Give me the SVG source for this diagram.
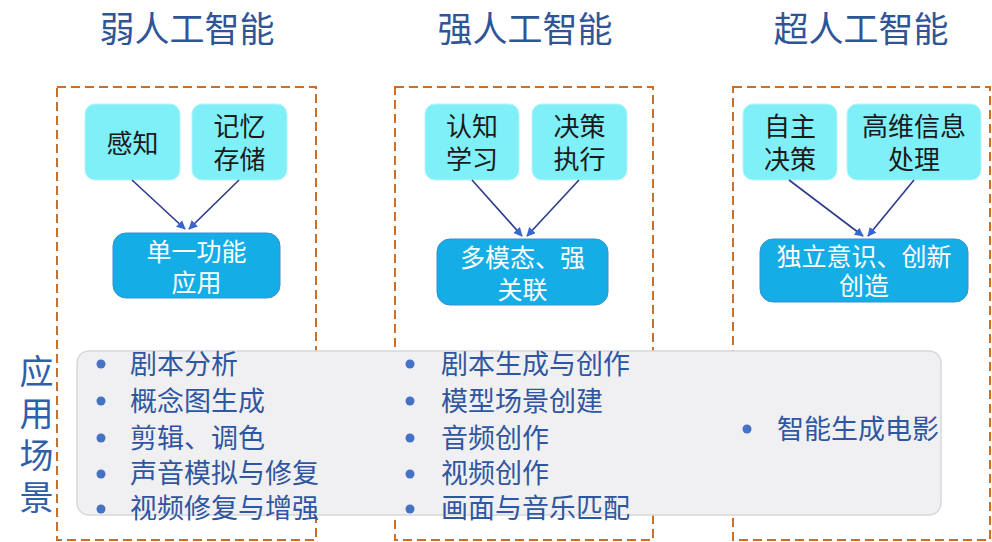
<svg xmlns="http://www.w3.org/2000/svg" width="992" height="542" viewBox="0 0 992 542">
<defs>
<style>
text{font-family:"Liberation Sans","Noto Sans CJK SC",sans-serif;dominant-baseline:central;text-anchor:middle}
.title{font-size:35px;fill:#2f5597}
.frame{fill:none;stroke:#c8702a;stroke-width:2;stroke-dasharray:9 5}
.light{fill:#7ff0f8;stroke:#b8f4f8;stroke-width:1}
.dark{fill:#14ade6;stroke:#3b8fd0;stroke-width:1}
.lt{font-size:26px;fill:#1a1a1a}
.dt{font-size:25px;fill:#ffffff}
.band{fill:#f0f0f2;stroke:#d8d8dc;stroke-width:1.5}
.item{font-size:27px;fill:#2f56a0;text-anchor:start}
.side{font-size:34px;fill:#2f5fa8;writing-mode:vertical-rl;text-anchor:start;letter-spacing:8px}
.dot{fill:#4472c4}
.conn line{stroke:#2b3a8c;stroke-width:1.6;marker-end:url(#ah)}
</style>
<marker id="ah" viewBox="0 0 10 10" refX="9" refY="5" markerWidth="9" markerHeight="9" orient="auto" markerUnits="userSpaceOnUse">
<path d="M0,0 L10,5 L0,10 z" fill="#3a66d0"/>
</marker>
</defs>
<rect width="992" height="542" fill="#ffffff"/>

<g id="col-weak">
<text class="title" x="187" y="29">弱人工智能</text>
<rect class="frame" x="57" y="87" width="259" height="453"/>
</g>
<g id="col-strong">
<text class="title" x="525" y="29">强人工智能</text>
<rect class="frame" x="395" y="87" width="258" height="453"/>
</g>
<g id="col-super">
<text class="title" x="861" y="29">超人工智能</text>
<rect class="frame" x="733" y="87" width="257" height="453"/>
</g>

<g id="n-ganzhi"><rect class="light" x="85" y="104" width="95" height="76" rx="10"/><text class="lt" x="132.5" y="144">感知</text></g>
<g id="n-jiyi"><rect class="light" x="192" y="104" width="95" height="76" rx="10"/><text class="lt"><tspan x="239.5" y="127">记忆</tspan><tspan x="239.5" y="160">存储</tspan></text></g>
<g id="n-danyi"><rect class="dark" x="113" y="233" width="167" height="65" rx="13"/><text class="dt"><tspan x="196.5" y="252">单一功能</tspan><tspan x="196.5" y="283">应用</tspan></text></g>

<g id="n-renzhi"><rect class="light" x="425" y="104" width="94" height="76" rx="10"/><text class="lt"><tspan x="472" y="127">认知</tspan><tspan x="472" y="160">学习</tspan></text></g>
<g id="n-juece"><rect class="light" x="532" y="104" width="95" height="76" rx="10"/><text class="lt"><tspan x="579.5" y="127">决策</tspan><tspan x="579.5" y="160">执行</tspan></text></g>
<g id="n-duomotai"><rect class="dark" x="437" y="239" width="171" height="66" rx="13"/><text class="dt"><tspan x="522.5" y="258">多模态、强</tspan><tspan x="522.5" y="290">关联</tspan></text></g>

<g id="n-zizhu"><rect class="light" x="743" y="104" width="94" height="76" rx="10"/><text class="lt"><tspan x="790" y="127">自主</tspan><tspan x="790" y="160">决策</tspan></text></g>
<g id="n-gaowei"><rect class="light" x="847" y="104" width="134" height="76" rx="10"/><text class="lt"><tspan x="914" y="127">高维信息</tspan><tspan x="914" y="160">处理</tspan></text></g>
<g id="n-duli"><rect class="dark" x="760" y="239" width="208" height="63" rx="13"/><text class="dt"><tspan x="864" y="257">独立意识、创新</tspan><tspan x="864" y="286">创造</tspan></text></g>

<g id="connectors" class="conn">
<line x1="132" y1="180" x2="185" y2="229"/>
<line x1="239" y1="180" x2="189" y2="229"/>
<line x1="472" y1="180" x2="522" y2="236"/>
<line x1="579" y1="180" x2="527" y2="236"/>
<line x1="789" y1="180" x2="863" y2="236"/>
<line x1="914" y1="180" x2="868" y2="236"/>
</g>

<g id="scenarios">
<rect class="band" x="77" y="351" width="864" height="164" rx="12"/>
<text class="side" x="34" y="354">应用场景</text>

<circle class="dot" cx="101" cy="364" r="4.5"/><text class="item" x="130" y="365">剧本分析</text>
<circle class="dot" cx="101" cy="401" r="4.5"/><text class="item" x="130" y="402">概念图生成</text>
<circle class="dot" cx="101" cy="438" r="4.5"/><text class="item" x="130" y="439">剪辑、调色</text>
<circle class="dot" cx="101" cy="474" r="4.5"/><text class="item" x="130" y="474">声音模拟与修复</text>
<circle class="dot" cx="101" cy="509" r="4.5"/><text class="item" x="130" y="509">视频修复与增强</text>

<circle class="dot" cx="410" cy="364" r="4.5"/><text class="item" x="441" y="365">剧本生成与创作</text>
<circle class="dot" cx="410" cy="401" r="4.5"/><text class="item" x="441" y="402">模型场景创建</text>
<circle class="dot" cx="410" cy="438" r="4.5"/><text class="item" x="441" y="439">音频创作</text>
<circle class="dot" cx="410" cy="474" r="4.5"/><text class="item" x="441" y="474">视频创作</text>
<circle class="dot" cx="410" cy="509" r="4.5"/><text class="item" x="441" y="509">画面与音乐匹配</text>

<circle class="dot" cx="747" cy="429" r="4.5"/><text class="item" x="777" y="430">智能生成电影</text>
</g>
</svg>
